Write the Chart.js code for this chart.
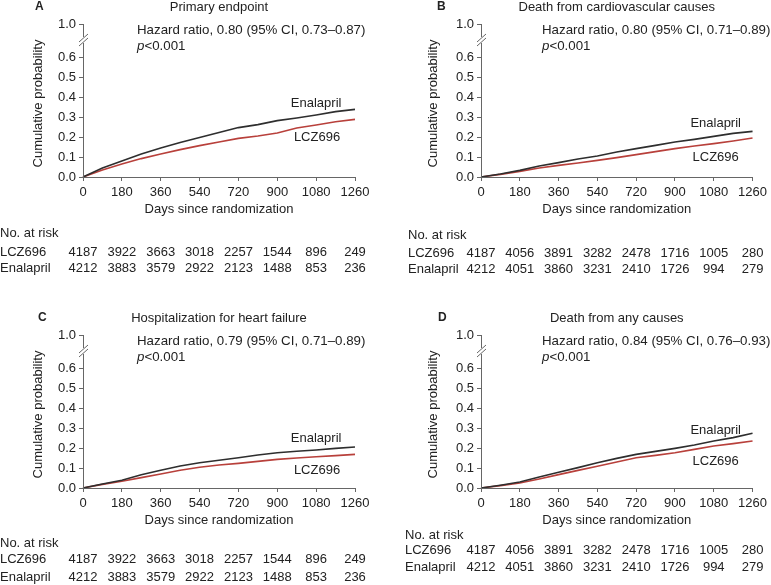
<!DOCTYPE html>
<html>
<head>
<meta charset="utf-8">
<script src="https://cdn.jsdelivr.net/npm/chart.js@4.4.1/dist/chart.umd.min.js"></script>
<style>
  html, body { margin: 0; padding: 0; background: #fff; overflow: hidden; }
  body { width: 771px; height: 585px; position: relative; }
  canvas { position: absolute; }
</style>
</head>
<body>
<canvas id="cA" style="left:0;top:0" width="390" height="300"></canvas>
<canvas id="cB" style="left:390px;top:0" width="381" height="300"></canvas>
<canvas id="cC" style="left:0;top:311px" width="390" height="274"></canvas>
<canvas id="cD" style="left:390px;top:311px" width="381" height="274"></canvas>
<script>
// data
const days = [0, 90, 180, 270, 360, 450, 540, 630, 720, 810, 900, 990, 1080, 1170, 1260];
const xTicks = [0, 180, 360, 540, 720, 900, 1080, 1260];
const yTicks = [0, 0.1, 0.2, 0.3, 0.4, 0.5, 0.6];
const yTopLabel = "1.0";

const enalA = [0, 0.045, 0.08, 0.115, 0.145, 0.172, 0.197, 0.222, 0.247, 0.262, 0.282, 0.295, 0.31, 0.327, 0.338];
const lczA  = [0, 0.035, 0.065, 0.092, 0.115, 0.137, 0.157, 0.175, 0.193, 0.205, 0.22, 0.245, 0.26, 0.276, 0.288];
const enalB = [0, 0.015, 0.033, 0.055, 0.072, 0.09, 0.105, 0.125, 0.142, 0.158, 0.175, 0.188, 0.203, 0.218, 0.228];
const lczB  = [0, 0.013, 0.028, 0.045, 0.058, 0.07, 0.083, 0.097, 0.112, 0.127, 0.142, 0.155, 0.167, 0.18, 0.195];
const enalC = [0, 0.02, 0.039, 0.066, 0.089, 0.11, 0.126, 0.139, 0.151, 0.165, 0.176, 0.184, 0.19, 0.198, 0.205];
const lczC  = [0, 0.018, 0.034, 0.052, 0.07, 0.089, 0.104, 0.115, 0.123, 0.133, 0.143, 0.15, 0.156, 0.162, 0.168];
const enalD = [0, 0.014, 0.03, 0.055, 0.079, 0.102, 0.126, 0.148, 0.168, 0.183, 0.198, 0.215, 0.235, 0.252, 0.274];
const lczD  = [0, 0.012, 0.025, 0.045, 0.067, 0.088, 0.109, 0.13, 0.151, 0.163, 0.176, 0.193, 0.21, 0.222, 0.235];

const riskLczAC  = [4187, 3922, 3663, 3018, 2257, 1544, 896, 249];
const riskEnalAC = [4212, 3883, 3579, 2922, 2123, 1488, 853, 236];
const riskLczBD  = [4187, 4056, 3891, 3282, 2478, 1716, 1005, 280];
const riskEnalBD = [4212, 4051, 3860, 3231, 2410, 1726, 994, 279];

// layout
const FONT = "Liberation Sans, Arial, Helvetica, sans-serif";
const TXT = "#222";
const AXIS = "#666";
const ENAL_COLOR = "#2e2e2e";
const LCZ_COLOR = "#b8403b";
const BREAK_AT = 0.765;   // where "1.0" sits on the broken axis
const PLOT_BOTTOM = 177;  // y pixel of 0.0 inside each canvas

const panels = [
  { id: "cA", letter: "A", title: "Primary endpoint", hr: "Hazard ratio, 0.80 (95% CI, 0.73\u20130.87)",
    enal: enalA, lcz: lczA, riskLcz: riskLczAC, riskEnal: riskEnalAC,
    left: 83, right: 35, letterX: 35, yTitleX: 38, hrDx: 54, rowX: 0, rows: [233, 252, 268],
    enalLab: [1080, 0.37], lczLab: [1084, 0.2] },
  { id: "cB", letter: "B", title: "Death from cardiovascular causes", hr: "Hazard ratio, 0.80 (95% CI, 0.71\u20130.89)",
    enal: enalB, lcz: lczB, riskLcz: riskLczBD, riskEnal: riskEnalBD,
    left: 91, right: 18, letterX: 47, yTitleX: 43, hrDx: 61, rowX: 18, rows: [235, 253, 269],
    enalLab: [1089, 0.27], lczLab: [1089, 0.1] },
  { id: "cC", letter: "C", title: "Hospitalization for heart failure", hr: "Hazard ratio, 0.79 (95% CI, 0.71\u20130.89)",
    enal: enalC, lcz: lczC, riskLcz: riskLczAC, riskEnal: riskEnalAC,
    left: 83, right: 35, letterX: 38, yTitleX: 38, hrDx: 54, rowX: 0, rows: [232, 248, 266],
    enalLab: [1080, 0.25], lczLab: [1084, 0.09] },
  { id: "cD", letter: "D", title: "Death from any causes", hr: "Hazard ratio, 0.84 (95% CI, 0.76\u20130.93)",
    enal: enalD, lcz: lczD, riskLcz: riskLczBD, riskEnal: riskEnalBD,
    left: 91, right: 18, letterX: 48, yTitleX: 43, hrDx: 61, rowX: 15, rows: [224, 239, 256],
    enalLab: [1089, 0.29], lczLab: [1089, 0.135] }
];

// draws axes with break, titles, labels and the at-risk table
const decorPlugin = {
  id: "decor",
  afterDraw(chart, args, opts) {
    const p = opts.panel;
    const ctx = chart.ctx;
    const xs = chart.scales.x, ys = chart.scales.y;
    const { left, right, top, bottom } = chart.chartArea;
    const cx = (left + right) / 2;
    ctx.save();

    // axis lines with break marks
    const yb = ys.getPixelForValue(0.685);
    ctx.strokeStyle = AXIS;
    ctx.lineWidth = 1;
    ctx.beginPath();
    ctx.moveTo(left + 0.5, top);
    ctx.lineTo(left + 0.5, yb - 3);
    ctx.moveTo(left + 0.5, yb + 3);
    ctx.lineTo(left + 0.5, bottom);
    ctx.moveTo(left, bottom + 0.5);
    ctx.lineTo(right, bottom + 0.5);
    ctx.stroke();
    ctx.beginPath();
    for (const d of [-2, 2]) {
      ctx.moveTo(left - 4, yb + d + 4);
      ctx.lineTo(left + 5, yb + d - 4);
    }
    ctx.stroke();

    ctx.fillStyle = TXT;
    ctx.textBaseline = "middle";

    // panel letter + title
    ctx.font = "bold 12px " + FONT;
    ctx.textAlign = "left";
    ctx.fillText(p.letter, p.letterX, 7);
    ctx.font = "13px " + FONT;
    ctx.textAlign = "center";
    ctx.fillText(p.title, cx, 7);

    // y axis title
    ctx.save();
    ctx.translate(p.yTitleX, (top + bottom) / 2 + 3);
    ctx.rotate(-Math.PI / 2);
    ctx.fillText("Cumulative probability", 0, 0);
    ctx.restore();

    // hazard ratio
    ctx.font = "13.3px " + FONT;
    ctx.textAlign = "left";
    ctx.fillText(p.hr, left + p.hrDx, top + 6);
    ctx.font = "italic 13.3px " + FONT;
    ctx.fillText("p", left + p.hrDx, top + 22);
    const pw = ctx.measureText("p").width;
    ctx.font = "13.3px " + FONT;
    ctx.fillText("<0.001", left + p.hrDx + pw, top + 22);

    // curve labels
    ctx.font = "13px " + FONT;
    ctx.textAlign = "center";
    ctx.fillText("Enalapril", xs.getPixelForValue(p.enalLab[0]), ys.getPixelForValue(p.enalLab[1]));
    ctx.fillText("LCZ696", xs.getPixelForValue(p.lczLab[0]), ys.getPixelForValue(p.lczLab[1]));

    // x axis title
    ctx.fillText("Days since randomization", cx, bottom + 32);

    // number at risk
    ctx.textAlign = "left";
    ctx.fillText("No. at risk", p.rowX, p.rows[0]);
    ctx.fillText("LCZ696", p.rowX, p.rows[1]);
    ctx.fillText("Enalapril", p.rowX, p.rows[2]);
    ctx.textAlign = "center";
    xTicks.forEach((t, i) => {
      const x = xs.getPixelForValue(t);
      ctx.fillText(String(p.riskLcz[i]), x, p.rows[1]);
      ctx.fillText(String(p.riskEnal[i]), x, p.rows[2]);
    });
    ctx.restore();
  }
};

function makeChart(p) {
  const canvas = document.getElementById(p.id);
  const H = canvas.height;
  return new Chart(canvas, {
    type: "line",
    data: {
      datasets: [
        { label: "Enalapril", data: days.map((d, i) => ({ x: d, y: p.enal[i] })),
          borderColor: ENAL_COLOR, borderWidth: 1.6, pointRadius: 0, tension: 0 },
        { label: "LCZ696", data: days.map((d, i) => ({ x: d, y: p.lcz[i] })),
          borderColor: LCZ_COLOR, borderWidth: 1.6, pointRadius: 0, tension: 0 }
      ]
    },
    options: {
      responsive: false,
      animation: false,
      clip: 4,
      layout: { padding: { left: 0, right: p.right, top: 24, bottom: 0 } },
      plugins: { legend: { display: false }, tooltip: { enabled: false }, decor: { panel: p } },
      scales: {
        x: {
          type: "linear", min: 0, max: 1260,
          afterBuildTicks: s => { s.ticks = xTicks.map(v => ({ value: v })); },
          afterFit: s => { s.height = H - PLOT_BOTTOM; },
          grid: { drawOnChartArea: false, drawTicks: true, tickLength: 4, color: AXIS },
          border: { display: false },
          ticks: { color: TXT, font: { family: FONT, size: 13 }, padding: 4, maxRotation: 0, autoSkip: false,
            callback: v => String(v) }
        },
        y: {
          type: "linear", min: 0, max: BREAK_AT,
          afterBuildTicks: s => { s.ticks = yTicks.concat([BREAK_AT]).map(v => ({ value: v })); },
          afterFit: s => { s.width = p.left; },
          grid: { drawOnChartArea: false, drawTicks: true, tickLength: 4, color: AXIS },
          border: { display: false },
          ticks: {
            color: TXT, font: { family: FONT, size: 13 }, padding: 3, autoSkip: false,
            callback: v => (v === BREAK_AT ? yTopLabel : v.toFixed(1))
          }
        }
      }
    },
    plugins: [decorPlugin]
  });
}

panels.forEach(makeChart);
</script>
</body>
</html>
